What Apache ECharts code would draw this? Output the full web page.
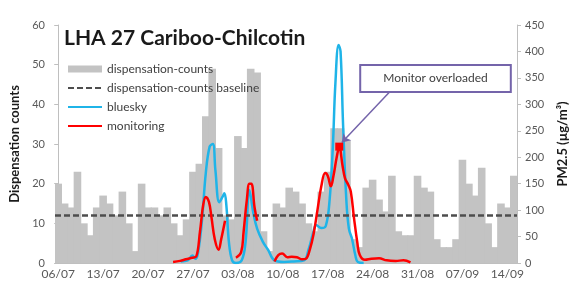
<!DOCTYPE html>
<html><head><meta charset="utf-8">
<script src="https://cdn.jsdelivr.net/npm/echarts@6/dist/echarts.min.js"></script>
<style>html,body{margin:0;padding:0;background:#fff}#c{width:577px;height:289px}</style>
</head><body><div id="c"></div>
<script>
// ---- data ----
const titleText = 'LHA 27 Cariboo-Chilcotin';
const startDay = [2015, 6, 6]; // 06/07
const dayCount = 72;           // 06/07 .. 15/09
const categories = [];
for (let i = 0; i < dayCount; i++) {
  const d = new Date(Date.UTC(startDay[0], startDay[1], startDay[2] + i));
  categories.push(String(d.getUTCDate()).padStart(2, '0') + '/' + String(d.getUTCMonth() + 1).padStart(2, '0'));
}
const dispensationCounts = [20,15,14,23,10,7,14,17,15,12,18,10,3,20,14,14,12,14,10,7,11,23,25,37,49,29,12,11,32,29,49,48,8,3,15,14,19,18,15,10,8,18,23,34,34,31,6,4,19,21,16,13,22,8,7,7,22,19,18,6,4,4,6,26,20,17,24,10,4,15,14,22];
const baselineValue = 12;
// [day index, PM2.5]
const bluesky = [[19.1,3],[20.2,5],[20.9,14],[21.4,8],[21.8,20],[22.4,80],[23.0,170],[23.6,220],[24.1,225],[24.5,175],[25.1,115],[25.6,125],[25.9,132],[26.2,110],[26.6,40],[27.1,5],[27.7,0],[28.6,5],[29.2,40],[29.8,138],[30.4,95],[31.0,65],[31.9,40],[32.7,25],[33.7,5],[35.2,2],[36.7,3],[38.3,5],[39.0,25],[39.8,60],[40.2,72],[41.0,66],[41.7,70],[42.3,120],[42.8,220],[43.2,340],[43.7,412],[44.0,400],[44.4,260],[44.9,120],[45.3,65],[45.8,45],[46.3,15],[46.7,2],[47.6,0]];
const monitoring = [[17.9,2],[19.0,4],[19.9,7],[20.9,10],[21.5,12],[22.1,60],[22.6,110],[23.0,125],[23.5,115],[23.9,85],[24.4,45],[25.0,25],[25.4,45],[26.0,80],[26.8,null],
  [27.7,10],[28.5,20],[28.9,60],[29.4,120],[29.8,150],[30.1,150],[30.6,105],[31.0,80],[32.0,null],
  [33.7,3],[34.3,15],[34.9,18],[35.7,11],[36.4,12],[37.2,11],[38.0,7],[38.6,8],[39.2,25],[39.8,55],[40.4,100],[41.0,145],[41.6,170],[42.0,165],[42.5,145],[42.9,165],[43.4,200],[43.8,220],[44.3,185],[44.7,160],[45.2,148],[45.6,135],[46.1,85],[46.6,40],[47.0,15],[47.8,6],[48.8,8],[50.0,9],[51.2,5],[52.6,4],[53.8,5],[54.9,1]];
const overloadPoint = [43.8, 220];
const noteText = 'Monitor overloaded';
const noteAt = [58.8, 349];
const arrowFrom = [51.6, 323];
const arrowTo = [44.2, 228];
const leftTicks = {min: 0, max: 60, interval: 10};
const rightTicks = {min: 0, max: 450, interval: 50};

// ---- chart ----
const FONT = 'Lato';
const grey = '#595959';
const barColor = '#c3c3c3';
const chart = echarts.init(document.getElementById('c'), null, {renderer: 'canvas'});
chart.setOption({
  animation: false,
  textStyle: {fontFamily: FONT},
  title: {text: titleText, left: 59, top: 23, textStyle: {fontFamily: FONT, fontSize: 21, fontWeight: 'bold', color: '#1a1a1a'}},
  legend: {
    orient: 'vertical', left: 62, top: 58, itemWidth: 34, itemHeight: 7, itemGap: 7,
    textStyle: {fontFamily: FONT, fontSize: 12, color: '#404040'},
    data: [
      {name: 'dispensation-counts', icon: 'rect'},
      {name: 'dispensation-counts baseline', itemStyle: {opacity: 0}},
      {name: 'bluesky', itemStyle: {opacity: 0}},
      {name: 'monitoring', itemStyle: {opacity: 0}}
    ]
  },
  grid: {left: 53, right: 49, top: 25, bottom: 26},
  xAxis: [
    {type: 'category', data: categories, boundaryGap: true,
     axisLine: {lineStyle: {color: '#bfbfbf'}},
     axisTick: {interval: 6, length: 4, lineStyle: {color: '#bfbfbf'}},
     axisLabel: {interval: 6, color: grey, fontSize: 12, margin: 5}},
    {type: 'value', min: -0.5, max: dayCount - 0.5, show: false}
  ],
  yAxis: [
    {type: 'value', ...leftTicks, position: 'left', name: 'Dispensation counts', nameLocation: 'middle', nameGap: 34, nameRotate: 90,
     nameTextStyle: {fontFamily: FONT, fontSize: 13, fontWeight: 'bold', color: '#1a1a1a'},
     splitLine: {show: false}, axisLine: {show: true, lineStyle: {color: '#bfbfbf'}},
     axisTick: {show: true, length: 4, lineStyle: {color: '#bfbfbf'}}, axisLabel: {color: grey, fontSize: 11, margin: 10}},
    {type: 'value', ...rightTicks, position: 'right', name: 'PM2.5 (µg/m³)', nameLocation: 'middle', nameGap: 39, nameRotate: 90,
     nameTextStyle: {fontFamily: FONT, fontSize: 13, fontWeight: 'bold', color: '#1a1a1a'},
     splitLine: {show: false}, axisLine: {show: true, lineStyle: {color: '#bfbfbf'}},
     axisTick: {show: true, length: 4, lineStyle: {color: '#bfbfbf'}}, axisLabel: {color: grey, fontSize: 11, margin: 8}}
  ],
  series: [
    {name: 'dispensation-counts', type: 'bar', xAxisIndex: 0, yAxisIndex: 0, data: dispensationCounts,
     barWidth: 7.6, itemStyle: {color: barColor}, z: 1},
    {name: 'dispensation-counts baseline', type: 'line', xAxisIndex: 0, yAxisIndex: 0, data: [], symbol: 'none',
     itemStyle: {color: '#4d4d4d'}, lineStyle: {color: '#4d4d4d', width: 2.5, type: [6, 3]}, z: 3,
     markLine: {silent: true, symbol: ['none', 'none'], label: {show: false},
       lineStyle: {color: '#4d4d4d', width: 2.5, type: [6, 3]}, data: [{yAxis: baselineValue}]}},
    {name: 'bluesky', type: 'line', xAxisIndex: 1, yAxisIndex: 1, data: bluesky, smooth: 0.4, symbol: 'none',
     itemStyle: {color: '#1fb4e8'}, lineStyle: {color: '#1fb4e8', width: 2.5}, z: 4},
    {name: 'monitoring', type: 'line', xAxisIndex: 1, yAxisIndex: 1, data: monitoring, smooth: 0.4, symbol: 'none', connectNulls: false,
     itemStyle: {color: '#ff0000'}, lineStyle: {color: '#ff0000', width: 2.5}, z: 5,
     markPoint: {silent: true, data: [
       {coord: overloadPoint, symbol: 'rect', symbolSize: 8, itemStyle: {color: '#ff0000'}, label: {show: false}},
       {coord: noteAt, symbol: 'rect', symbolSize: 1, itemStyle: {color: 'rgba(0,0,0,0)'},
        label: {show: true, position: 'inside', formatter: noteText, color: '#404040', fontSize: 12, fontFamily: FONT,
          backgroundColor: '#ffffff', borderColor: '#7464aa', borderWidth: 2, padding: [7, 22, 6, 22]}}
     ]},
     markLine: {silent: true, label: {show: false}, symbolSize: 8,
       lineStyle: {color: '#7464aa', width: 1.5, type: 'solid'},
       data: [[{coord: arrowFrom, symbol: 'none'}, {coord: arrowTo, symbol: 'arrow'}]]}}
  ]
});
</script></body></html>
